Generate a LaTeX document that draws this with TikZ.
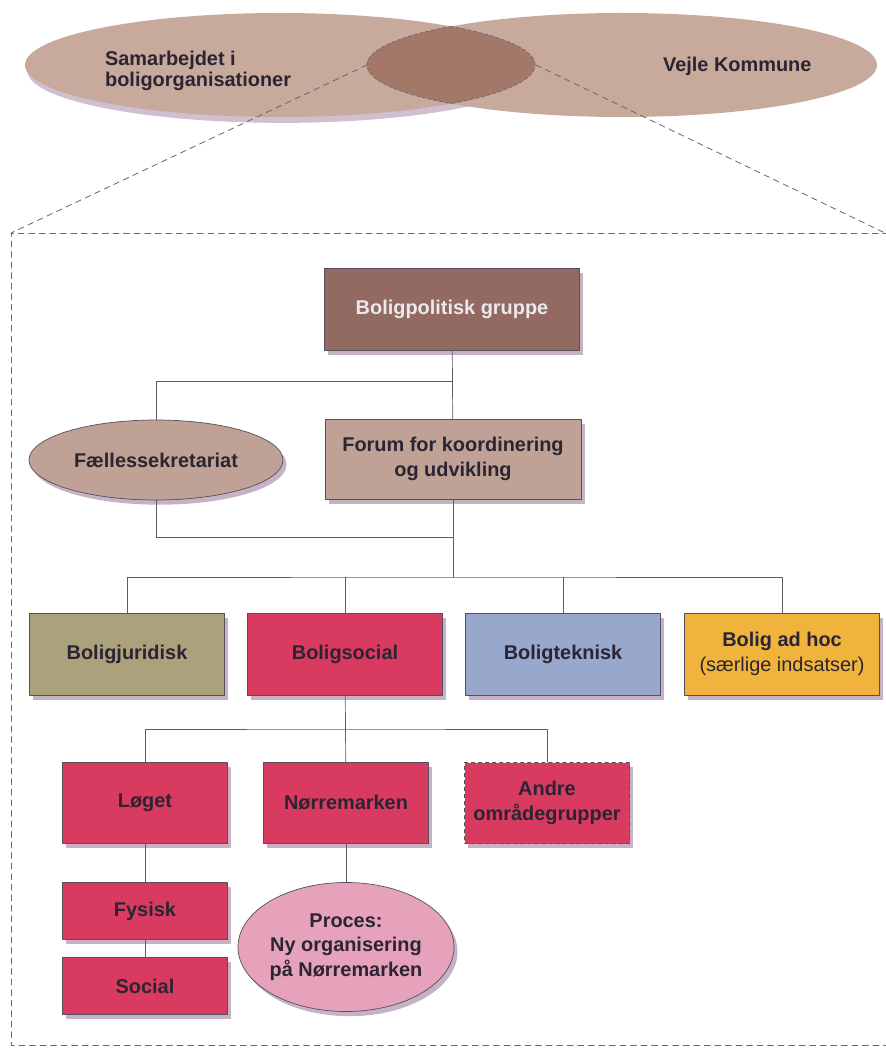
\documentclass[tikz,border=0pt]{standalone}
\usepackage{fontspec}
\setmainfont{Liberation Sans}
\usetikzlibrary{calc,shapes.geometric,shadows}
\definecolor{tanlight}{HTML}{C8AA9C}
\definecolor{lensbrown}{HTML}{A47868}
\definecolor{polbrown}{HTML}{936A62}
\definecolor{forumtan}{HTML}{BFA295}
\definecolor{olive}{HTML}{ABA27C}
\definecolor{crimson}{HTML}{D93A5F}
\definecolor{steel}{HTML}{98A8CC}
\definecolor{amber}{HTML}{F0B43C}
\definecolor{rosa}{HTML}{E6A2BA}
\definecolor{ink}{HTML}{2B2433}
\tikzset{
every picture/.append style={line join=round,line cap=round},
unit/.style={draw=ink!80,line width=.6pt,text=ink,align=center,
  font=\fontsize{17}{21}\selectfont\bfseries,
  drop shadow={shadow xshift=3pt,shadow yshift=-4pt,opacity=.3,fill=violet!50!black}},
orgbox/.style={unit,rectangle,minimum width=5.85cm,minimum height=2.46cm},
areabox/.style={unit,rectangle,fill=crimson,minimum width=4.95cm,minimum height=2.43cm},
subbox/.style={areabox,minimum height=1.7cm},
bubble/.style={unit,ellipse,inner sep=0pt},
link/.style={draw=ink!75,line width=.6pt},
zoomline/.style={draw=ink!70,line width=.7pt,dash pattern=on 5pt off 4pt}
}
\begin{document}
\begin{tikzpicture}[x=0.03cm,y=-0.03cm]
        \useasboundingbox (0,0) rectangle (885,1048);
        % de to samarbejdsparter
        \fill [tanlight,drop shadow={shadow xshift=2pt,shadow yshift=-5pt,opacity=.25,fill=violet!50!black}] (280,65) ellipse [x radius=7.65cm,y radius=1.56cm];
        \fill [tanlight] (622,65) ellipse [x radius=7.65cm,y radius=1.56cm];
        \begin{scope}
          \clip (280,65) ellipse [x radius=7.65cm,y radius=1.56cm];
          \fill [lensbrown] (622,65) ellipse [x radius=7.65cm,y radius=1.56cm];
          \draw [ink!70,line width=.6pt,dash pattern=on 3pt off 2pt] (622,65) ellipse [x radius=7.65cm,y radius=1.56cm];
        \end{scope}
        \begin{scope}
          \clip (622,65) ellipse [x radius=7.65cm,y radius=1.56cm];
          \draw [ink!70,line width=.6pt,dash pattern=on 3pt off 2pt] (280,65) ellipse [x radius=7.65cm,y radius=1.56cm];
        \end{scope}
        \node [text=ink,align=left,anchor=west,font=\fontsize{17}{18}\selectfont\bfseries] (samarb) at (101,71) {Samarbejdet i\\boligorganisationer};
        \node [text=ink,anchor=west,font=\fontsize{17}{18}\selectfont\bfseries] (vejle) at (659,66) {Vejle Kommune};
        % udsnit
        \coordinate (lensL) at (367,65);
        \coordinate (lensR) at (536,65);
        \coordinate (frameNW) at (11,233);
        \coordinate (frameNE) at (885,233);
        \draw [zoomline] (lensL) -- (frameNW);
        \draw [zoomline] (lensR) -- (frameNE);
        \draw [zoomline] (900,1045) -- (11,1045) -- (frameNW) -- (900,233);
        % organisation
        \node [orgbox,fill=polbrown,text=white!90!ink,minimum width=7.65cm] (politisk) at (452,309) {Boligpolitisk gruppe};
        \node [orgbox,fill=forumtan,minimum width=7.68cm,minimum height=2.4cm] (forum) at (453,459) {Forum for koordinering\\og udvikling};
        \node [bubble,fill=forumtan,minimum width=7.62cm,minimum height=2.4cm] (faelles) at (156,460) {Fællessekretariat};
        \node [orgbox,fill=olive] (juridisk) at (127,654) {Boligjuridisk};
        \node [orgbox,fill=crimson] (boligsocial) at (345,654) {Boligsocial};
        \node [orgbox,fill=steel] (teknisk) at (563,654) {Boligteknisk};
        \node [orgbox,fill=amber] (adhoc) at (782,654) {Bolig ad hoc\\{\mdseries(særlige indsatser)}};
        \node [areabox] (loeget) at (145,803) {Løget};
        \node [areabox] (norre) at (346,803) {Nørremarken};
        \node [areabox,dashed] (andre) at (547,803) {Andre\\områdegrupper};
        \node [subbox] (fysisk) at (145,911) {Fysisk};
        \node [subbox] (social) at (145,986) {Social};
        \node [bubble,fill=rosa,minimum width=5.64cm,minimum height=3.87cm] (proces) at (346,947) {Proces:\\Ny organisering\\på Nørremarken};
        \coordinate (join) at (453,537);
        \coordinate (hub) at (453,577);
        \coordinate (hubsocial) at (346,729);
        \path [link] (politisk) -- (forum);
        \path [link] (faelles.north) |- ($(politisk.south)!.45!(forum.north)$);
        \path [link] (forum) -- (hub);
        \path [link] (faelles.south) |- (join);
        \path [link] (juridisk.north) |- (hub) -| (adhoc.north);
        \path [link] (boligsocial.north) -- (boligsocial.north |- hub);
        \path [link] (teknisk.north) -- (teknisk.north |- hub);
        \path [link] (boligsocial) -- (norre);
        \path [link] (loeget.north) |- (hubsocial) -| (andre.north);
        \path [link] (loeget) -- (fysisk) -- (social);
        \path [link] (norre) -- (proces);
    \end{tikzpicture}
\end{document}
